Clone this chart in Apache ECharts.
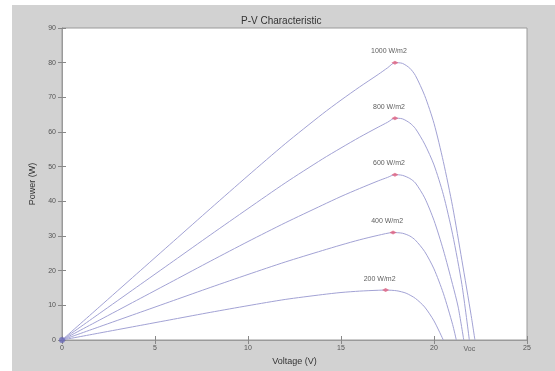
<!DOCTYPE html>
<html>
<head>
<meta charset="utf-8">
<script src="https://cdn.jsdelivr.net/npm/echarts@6/dist/echarts.min.js"></script>
<style>
html,body{margin:0;padding:0;background:#fff;}
#bg{position:absolute;left:12px;top:5px;width:543px;height:366px;background:#d2d2d2;}
#c{position:absolute;left:0;top:0;width:555px;height:371px;}
</style>
</head>
<body>
<div id="bg"></div>
<div id="c"></div>
<script>
const titleText = "P-V Characteristic";
const xName = "Voltage (V)";
const yName = "Power (W)";
const xTicks = [0, 5, 10, 15, 20, 25];
const yTicks = [0, 10, 20, 30, 40, 50, 60, 70, 80, 90];

const seriesNames = ["1000 W/m2", "800 W/m2", "600 W/m2", "400 W/m2", "200 W/m2"];

const curve1000 = [[0,0],[2,9.5],[4,19],[6,28.5],[8,38],[10,47.4],[12,56.6],[14,65.2],[15,69.2],[16,73],[17,76.6],[17.5,78.5],[17.9,80],[18.3,79.8],[18.7,78.4],[19,76.3],[19.5,70.5],[20,62.5],[20.5,51.5],[21,38.5],[21.5,23],[22,7],[22.2,0]];
const curve800 = [[0,0],[2,7.6],[4,15.2],[6,22.8],[8,30.4],[10,37.9],[12,45.3],[14,52.2],[15,55.4],[16,58.5],[17,61.4],[17.5,62.8],[17.9,64],[18.3,63.8],[18.7,62.6],[19,61],[19.5,56.5],[20,50.5],[20.5,42],[21,30.5],[21.5,16],[21.9,0]];
const curve600 = [[0,0],[2,5.7],[4,11.4],[6,17.1],[8,22.8],[10,28.4],[12,33.8],[14,38.9],[15,41.4],[16,43.7],[17,45.9],[17.5,46.9],[17.9,47.7],[18.3,47.5],[18.7,46.6],[19,45.3],[19.5,41],[20,34.5],[20.5,26],[21,16],[21.3,9.5],[21.6,0]];
const curve400 = [[0,0],[2,3.8],[4,7.6],[6,11.4],[8,15.2],[10,18.9],[12,22.5],[14,25.8],[15,27.4],[16,28.9],[17,30.2],[17.8,31],[18.3,30.8],[18.7,30],[19,28.8],[19.5,25.5],[20,20.5],[20.5,13.5],[21,4.5],[21.2,0]];
const curve200 = [[0,0],[2,2],[4,4],[6,6],[8,8],[10,9.9],[12,11.7],[14,13.1],[15,13.7],[16,14.1],[17,14.35],[17.4,14.4],[18,14.2],[18.5,13.5],[19,12],[19.5,9.5],[20,5.5],[20.5,0]];

const peaks = [[17.9,80],[17.9,64],[17.9,47.7],[17.8,31],[17.4,14.4]];
const vocLabel = "Voc";
const vocPoint = [21.9, 0];

const curves = [curve1000, curve800, curve600, curve400, curve200];

const chart = echarts.init(document.getElementById('c'), null, {renderer:'canvas'});

const lineSeries = curves.map((d, i) => ({
  type: 'line',
  name: seriesNames[i],
  data: d,
  smooth: 0.25,
  showSymbol: false,
  lineStyle: {color: '#a2a2d4', width: 1},
  silent: true,
  z: 2
}));

const peakSeries = {
  type: 'scatter',
  data: peaks.map((p, i) => ({value: p, label: {formatter: seriesNames[i]}})),
  symbol: 'diamond',
  symbolSize: [7, 4],
  itemStyle: {color: '#e06080'},
  label: {show: true, position: 'top', distance: 6, offset: [-6, 0], fontSize: 7, color: '#333', fontFamily: 'Liberation Sans'},
  z: 4
};

const originSeries = {
  type: 'scatter',
  data: [[0,0]],
  symbol: 'circle',
  symbolSize: 6,
  itemStyle: {color: '#6a6ab8'},
  z: 4
};

const vocSeries = {
  type: 'scatter',
  data: [vocPoint],
  symbolSize: 0,
  label: {show: true, formatter: vocLabel, position: 'bottom', distance: 6, fontSize: 7, color: '#444', fontFamily: 'Liberation Sans'},
  z: 4
};

const axisCommon = {
  axisLine: {show: true, lineStyle: {color: '#9a9a9a', width: 1}},
  axisTick: {show: true, inside: true, length: 4, lineStyle: {color: '#888'}},
  splitLine: {show: false},
};

chart.setOption({
  animation: false,
  backgroundColor: 'transparent',
  title: {
    text: titleText, left: 236, top: 11,
    textStyle: {fontSize: 10, fontWeight: 'normal', color: '#333', fontFamily: 'Liberation Sans'}
  },
  grid: {left: 62, top: 28, right: 28, bottom: 29, show: true, backgroundColor: '#ffffff', borderColor: '#9a9a9a', borderWidth: 1},
  xAxis: [
    Object.assign({
      type: 'value', min: xTicks[0], max: xTicks[xTicks.length-1], interval: 5,
      name: xName, nameLocation: 'middle', nameGap: 17,
      nameTextStyle: {fontSize: 9, color: '#333', fontFamily: 'Liberation Sans'},
      axisLabel: {fontSize: 7, color: '#555', margin: 5, fontFamily: 'Liberation Sans'}
    }, axisCommon),
    Object.assign({
      type: 'value', position: 'top', min: 0, max: 25, interval: 5,
      axisLabel: {show: false}
    }, axisCommon)
  ],
  yAxis: [
    Object.assign({
      type: 'value', min: yTicks[0], max: yTicks[yTicks.length-1], interval: 10,
      name: yName, nameLocation: 'middle', nameGap: 25,
      nameTextStyle: {fontSize: 9, color: '#333', fontFamily: 'Liberation Sans'},
      axisLabel: {fontSize: 7, color: '#555', margin: 6, fontFamily: 'Liberation Sans'}
    }, axisCommon),
    Object.assign({
      type: 'value', position: 'right', min: 0, max: 90, interval: 10,
      axisLabel: {show: false}
    }, axisCommon)
  ],
  series: lineSeries.concat([peakSeries, originSeries, vocSeries])
});
</script>
</body>
</html>
